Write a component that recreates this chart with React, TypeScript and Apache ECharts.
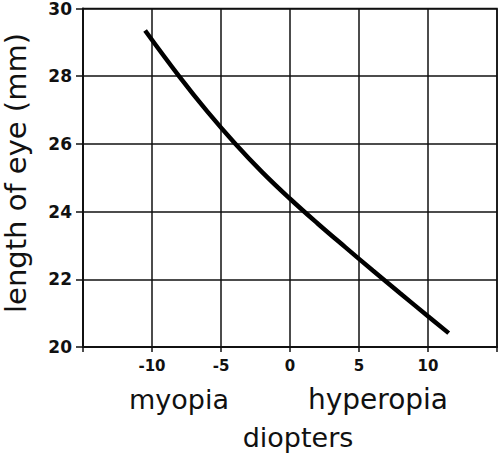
import React, { useEffect, useRef } from "react";
import * as echarts from "echarts";

const diopters = [-10.5, -8, -6, -4, -2, 0, 2, 4, 6, 8, 10, 11.5];
const eyeLength = [29.35, 27.98, 26.96, 26.02, 25.16, 24.38, 23.65, 22.95, 22.26, 21.58, 20.91, 20.41];
const xTicks = [-10, -5, 0, 5, 10];
const yTicks = [20, 22, 24, 26, 28, 30];

const FONT = "'DejaVu Sans', sans-serif";

export default function App() {
  const ref = useRef<HTMLDivElement>(null);
  useEffect(() => {
    if (!ref.current) return;
    const chart = echarts.init(ref.current, undefined, { renderer: "svg" });
    const data = diopters.map((d, i) => [d, eyeLength[i]]);
    chart.setOption({
      animation: false,
      backgroundColor: "#ffffff",
      grid: { left: 83, right: 2, top: 8, bottom: 108, show: true, borderColor: "#111", borderWidth: 1.5 },
      xAxis: {
        type: "value",
        min: -15,
        max: 15,
        interval: 5,
        axisLine: { show: true, onZero: false, lineStyle: { color: "#111", width: 2 } },
        axisTick: { show: true, length: 5, inside: false, lineStyle: { color: "#111", width: 1.5 } },
        splitLine: { show: true, lineStyle: { color: "#111", width: 1.5 } },
        axisLabel: {
          margin: 11,
          fontFamily: FONT,
          fontWeight: "bold",
          fontSize: 15,
          color: "#111",
          formatter: (v: number) => (xTicks.includes(v) ? String(v) : ""),
        },
      },
      yAxis: {
        type: "value",
        min: 20,
        max: 30,
        interval: 2,
        axisLine: { show: true, onZero: false, lineStyle: { color: "#111", width: 2 } },
        axisTick: { show: true, length: 7, lineStyle: { color: "#111", width: 1.5 } },
        splitLine: { show: true, lineStyle: { color: "#111", width: 1.5 } },
        axisLabel: {
          margin: 11,
          fontFamily: FONT,
          fontWeight: "bold",
          fontSize: 17,
          color: "#111",
          formatter: (v: number) => (yTicks.includes(v) ? String(v) : ""),
        },
      },
      series: [
        {
          type: "line",
          data,
          smooth: 0.4,
          symbol: "none",
          lineStyle: { color: "#000", width: 4.5 },
        },
      ],
      graphic: [
        {
          type: "text",
          x: 16,
          y: 173,
          rotation: Math.PI / 2,
          style: { text: "length of eye (mm)", font: `29px ${FONT}`, fill: "#111", textAlign: "center", textVerticalAlign: "middle" },
        },
        {
          type: "text",
          x: 179,
          y: 399,
          style: { text: "myopia", font: `27px ${FONT}`, fill: "#111", textAlign: "center", textVerticalAlign: "middle" },
        },
        {
          type: "text",
          x: 378,
          y: 399,
          style: { text: "hyperopia", font: `28px ${FONT}`, fill: "#111", textAlign: "center", textVerticalAlign: "middle" },
        },
        {
          type: "text",
          x: 298,
          y: 437,
          style: { text: "diopters", font: `27px ${FONT}`, fill: "#111", textAlign: "center", textVerticalAlign: "middle" },
        },
      ],
    });
    return () => chart.dispose();
  }, []);
  return <div ref={ref} style={{ position: "absolute", left: 0, top: 0, width: 500, height: 455 }} />;
}
